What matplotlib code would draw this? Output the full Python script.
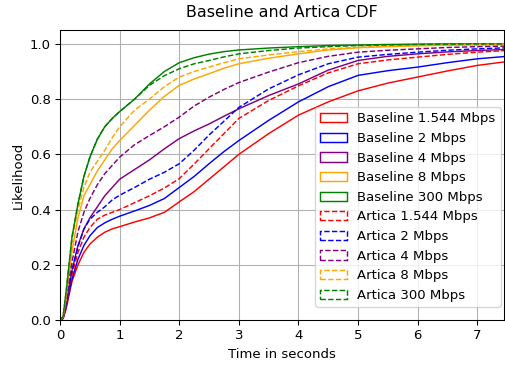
import numpy as np
import matplotlib
matplotlib.use("Agg")
import matplotlib.pyplot as plt
from matplotlib.patches import Patch

# time axis (seconds) at which the CDF values were read
t = [0, 0.05, 0.1, 0.15, 0.2, 0.3, 0.4, 0.5, 0.625, 0.75, 0.875, 1, 1.25, 1.5, 1.75,
     2, 2.25, 2.5, 2.75, 3, 3.5, 4, 4.5, 5, 5.5, 6, 6.5, 7, 7.5]

# Baseline CDFs
base_1544 = [0, 0.005, 0.04, 0.09, 0.14, 0.20, 0.245, 0.275, 0.30, 0.318, 0.33, 0.338, 0.355, 0.37, 0.39,
             0.428, 0.465, 0.51, 0.555, 0.60, 0.675, 0.742, 0.79, 0.83, 0.858, 0.88, 0.902, 0.922, 0.936]
base_2 = [0, 0.006, 0.045, 0.10, 0.15, 0.22, 0.27, 0.305, 0.335, 0.352, 0.365, 0.376, 0.395, 0.415, 0.44,
          0.48, 0.52, 0.566, 0.61, 0.65, 0.723, 0.79, 0.845, 0.886, 0.903, 0.916, 0.932, 0.946, 0.955]
base_4 = [0, 0.008, 0.055, 0.12, 0.18, 0.27, 0.33, 0.37, 0.41, 0.45, 0.48, 0.51, 0.545, 0.58, 0.62,
          0.657, 0.685, 0.71, 0.738, 0.765, 0.813, 0.855, 0.905, 0.94, 0.955, 0.964, 0.971, 0.976, 0.98]
base_8 = [0, 0.01, 0.07, 0.16, 0.25, 0.37, 0.45, 0.49, 0.54, 0.58, 0.62, 0.65, 0.705, 0.76, 0.81,
          0.85, 0.873, 0.892, 0.912, 0.928, 0.948, 0.964, 0.978, 0.986, 0.99, 0.993, 0.995, 0.996, 0.997]
base_300 = [0, 0.012, 0.1, 0.2, 0.3, 0.42, 0.52, 0.59, 0.655, 0.70, 0.73, 0.755, 0.80, 0.855, 0.9,
            0.932, 0.95, 0.963, 0.972, 0.978, 0.985, 0.99, 0.994, 0.996, 0.998, 0.999, 1.0, 1.0, 1.0]

# Artica CDFs
art_1544 = [0, 0.007, 0.05, 0.11, 0.165, 0.245, 0.30, 0.335, 0.365, 0.38, 0.39, 0.40, 0.425, 0.45, 0.478,
            0.512, 0.565, 0.62, 0.675, 0.73, 0.795, 0.848, 0.895, 0.928, 0.942, 0.952, 0.962, 0.97, 0.976]
art_2 = [0, 0.008, 0.055, 0.12, 0.18, 0.265, 0.33, 0.365, 0.39, 0.41, 0.435, 0.452, 0.48, 0.51, 0.535,
         0.566, 0.615, 0.67, 0.72, 0.77, 0.837, 0.888, 0.928, 0.952, 0.962, 0.97, 0.977, 0.982, 0.986]
art_4 = [0, 0.008, 0.06, 0.14, 0.21, 0.32, 0.39, 0.44, 0.49, 0.53, 0.56, 0.59, 0.635, 0.668, 0.70,
         0.735, 0.775, 0.807, 0.835, 0.86, 0.898, 0.932, 0.955, 0.97, 0.977, 0.982, 0.987, 0.99, 0.992]
art_8 = [0, 0.01, 0.08, 0.19, 0.29, 0.40, 0.48, 0.535, 0.575, 0.615, 0.66, 0.70, 0.76, 0.80, 0.845,
         0.88, 0.9, 0.916, 0.932, 0.946, 0.96, 0.972, 0.982, 0.988, 0.992, 0.995, 0.997, 0.998, 0.999]
art_300 = [0, 0.012, 0.1, 0.2, 0.3, 0.42, 0.52, 0.59, 0.655, 0.70, 0.73, 0.755, 0.80, 0.85, 0.885,
           0.91, 0.928, 0.94, 0.953, 0.964, 0.976, 0.985, 0.99, 0.994, 0.996, 0.998, 0.999, 1.0, 1.0]

rates = ["1.544", "2", "4", "8", "300"]
colors = ["red", "blue", "purple", "orange", "green"]
baseline = [base_1544, base_2, base_4, base_8, base_300]
artica = [art_1544, art_2, art_4, art_8, art_300]

dpi = 95
fig = plt.figure(figsize=(505 / dpi, 367 / dpi), dpi=dpi)
ax = fig.add_axes([0.119, 0.128, 0.879, 0.79])

for vals, c in zip(baseline, colors):
    ax.plot(t, vals, color=c, linewidth=1.1)
for vals, c in zip(artica, colors):
    ax.plot(t, vals, color=c, linewidth=1.1, linestyle="--")

# legend uses outlined boxes like a step histogram
handles = []
labels = []
for r, c in zip(rates, colors):
    handles.append(Patch(edgecolor=c, fill=False, linewidth=1.1))
    labels.append("Baseline " + r + " Mbps")
for r, c in zip(rates, colors):
    handles.append(Patch(edgecolor=c, fill=False, linewidth=1.1, linestyle="--"))
    labels.append("Artica " + r + " Mbps")

ax.legend(handles, labels, loc="lower right", bbox_to_anchor=(1.008, 0.022))
ax.set_xlim(0, 7.45)
ax.set_ylim(0, 1.05)
ax.grid(True)
ax.set_title("Baseline and Artica CDF", pad=10)
ax.set_xlabel("Time in seconds")
ax.set_ylabel("Likelihood")

fig.savefig("out.png", dpi=dpi)
